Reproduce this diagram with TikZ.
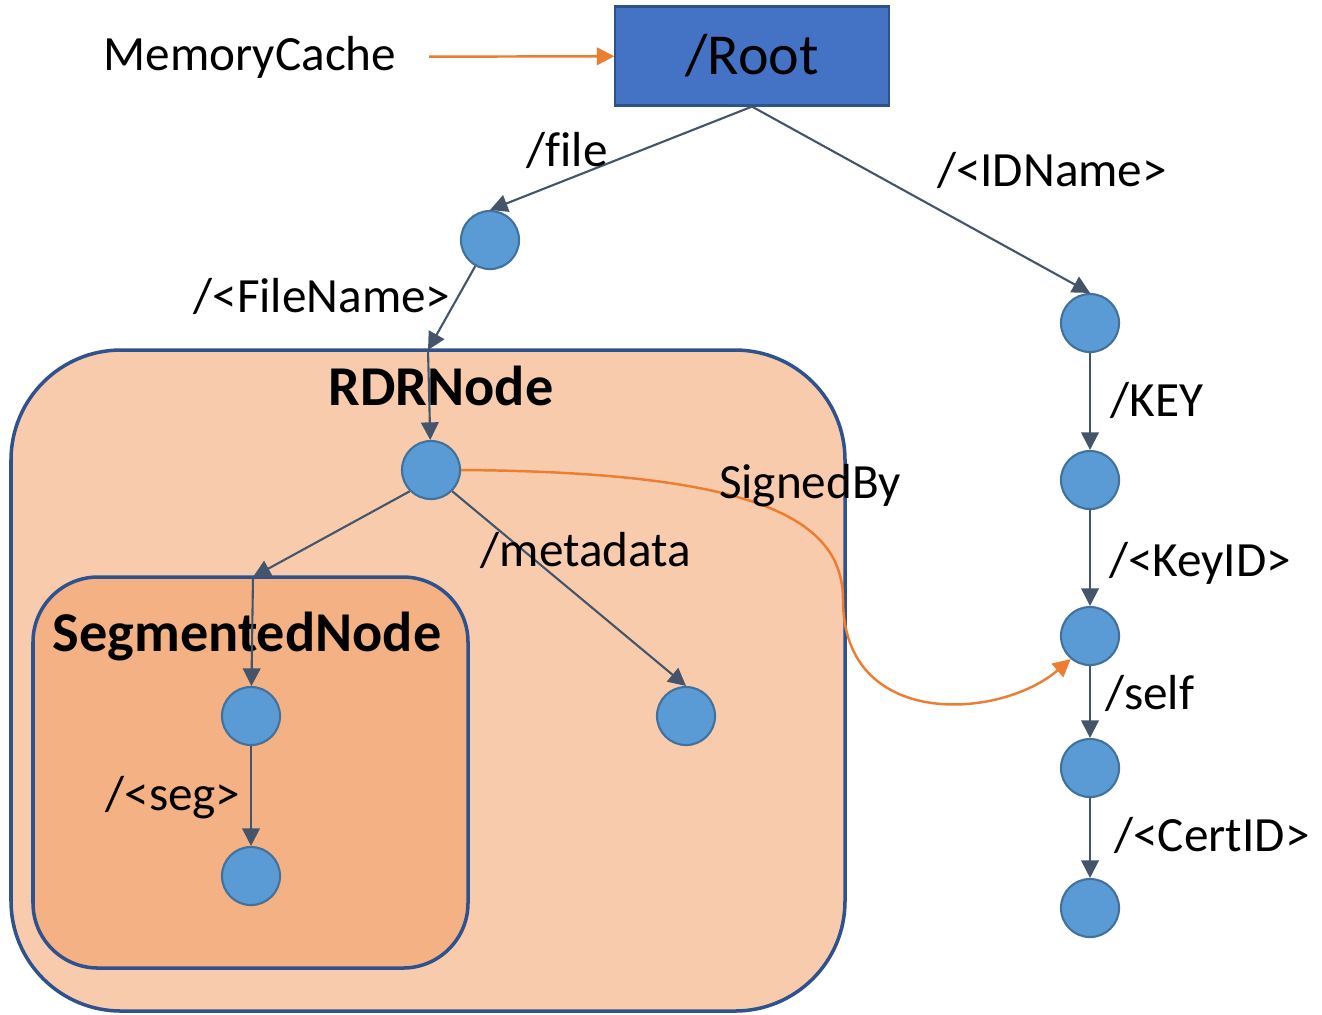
\documentclass[tikz,border=0pt]{standalone}
\usepackage{fontspec}
\setmainfont[Ligatures=NoCommon]{Carlito}
\usepackage{xcolor}
\usetikzlibrary{arrows.meta, positioning}
\definecolor{rootblue}{HTML}{4472C4}
\definecolor{boxline}{HTML}{2F528F}
\definecolor{circblue}{HTML}{5B9BD5}
\definecolor{circline}{HTML}{41719C}
\definecolor{edgeslate}{HTML}{44546A}
\definecolor{signorange}{HTML}{ED7D31}
\definecolor{rdrfill}{HTML}{F8CBAD}
\definecolor{segfill}{HTML}{F4B183}
\tikzstyle{rootbox} = [rectangle, minimum width=2.73cm, minimum height=0.99cm, draw=boxline, fill=rootblue, line width=0.6pt, font=\fontsize{16.5}{20}\selectfont]
\tikzstyle{dirnode} = [circle, minimum size=0.58cm, inner sep=0pt, draw=circline, fill=circblue, line width=0.6pt]
\tikzstyle{pathlabel} = [inner sep=0pt, font=\fontsize{14}{16}\selectfont]
\tikzstyle{boxlabel} = [inner sep=0pt, font=\fontsize{16}{18}\selectfont\bfseries]
\tikzstyle{container} = [draw=boxline, line width=1pt, rounded corners=1.1cm]
\tikzstyle{arrow} = [line width=0.6pt, draw=edgeslate, -{Triangle[length=5pt,width=5pt]}]
\tikzstyle{signarrow} = [line width=0.7pt, draw=signorange, -{Triangle[length=5pt,width=5pt]}]
\begin{document}
\begin{tikzpicture}[x=0.01cm, y=-0.01cm]
    \useasboundingbox (0,0) rectangle (1322,1014);

    % containers
    \draw [container, fill=rdrfill] (11,350) rectangle (845,1011);
    \draw [container, fill=segfill, rounded corners=0.65cm] (33,577) rectangle (468,968);
    \node (rdrlabel) [boxlabel] at (441,386) {RDRNode};
    \node (seglabel) [boxlabel] at (247,637) {SegmentedNode};
    \coordinate (rdrtop) at (428,350);
    \coordinate (segtop) at (253,577);

    % tree
    \node (cache) [pathlabel] at (250,57) {MemoryCache};
    \node (root) [rootbox] at (752,56) {/Root};
    \node (file) [dirnode] at (490,240) {};
    \node (rdr) [dirnode] at (431,470) {};
    \node (seg) [dirnode] at (251,716) {};
    \node (segpart) [dirnode] at (251,876) {};
    \node (meta) [dirnode] at (686,716) {};
    \node (idname) [dirnode] at (1090,323) {};
    \node (keydir) [dirnode] at (1090,480) {};
    \node (keyid) [dirnode] at (1090,636) {};
    \node (self) [dirnode] at (1090,768) {};
    \node (cert) [dirnode] at (1090,908) {};

    \draw [signarrow, shorten <=0.32cm] (cache) -- (root);
    \draw [arrow] (root.south) -- (file.north);
    \draw [arrow] (root.south) -- (idname.north);
    \draw [arrow] (file) -- (rdrtop);
    \draw [arrow] (rdrtop) -- (rdr);
    \draw [arrow] (rdr.-135) -- (segtop);
    \draw [arrow] (segtop) -- (seg);
    \draw [arrow] (seg) -- (segpart);
    \draw [arrow] (rdr.-45) -- (meta.north);
    \draw [arrow] (idname) -- (keydir);
    \draw [arrow] (keydir) -- (keyid);
    \draw [arrow] (keyid) -- (self);
    \draw [arrow] (self) -- (cert);
    \draw [signarrow] (rdr.east) .. controls (760,472) and (843,520) .. (843,600)
        .. controls (843,730) and (1000,720) .. (keyid.-130);

    \node [pathlabel] at (567,150) {/file};
    \node [pathlabel] at (1052,170) {/<IDName>};
    \node [pathlabel] at (322,296) {/<FileName>};
    \node [pathlabel] at (586,550) {/metadata};
    \node [pathlabel] at (173,798) {/<seg>};
    \node [pathlabel] at (810,486) {SignedBy};
    \node [pathlabel] at (1157,400) {/KEY};
    \node [pathlabel] at (1200,563) {/<KeyID>};
    \node [pathlabel] at (1150,693) {/self};
    \node [pathlabel] at (1212,835) {/<CertID>};
\end{tikzpicture}
\end{document}
